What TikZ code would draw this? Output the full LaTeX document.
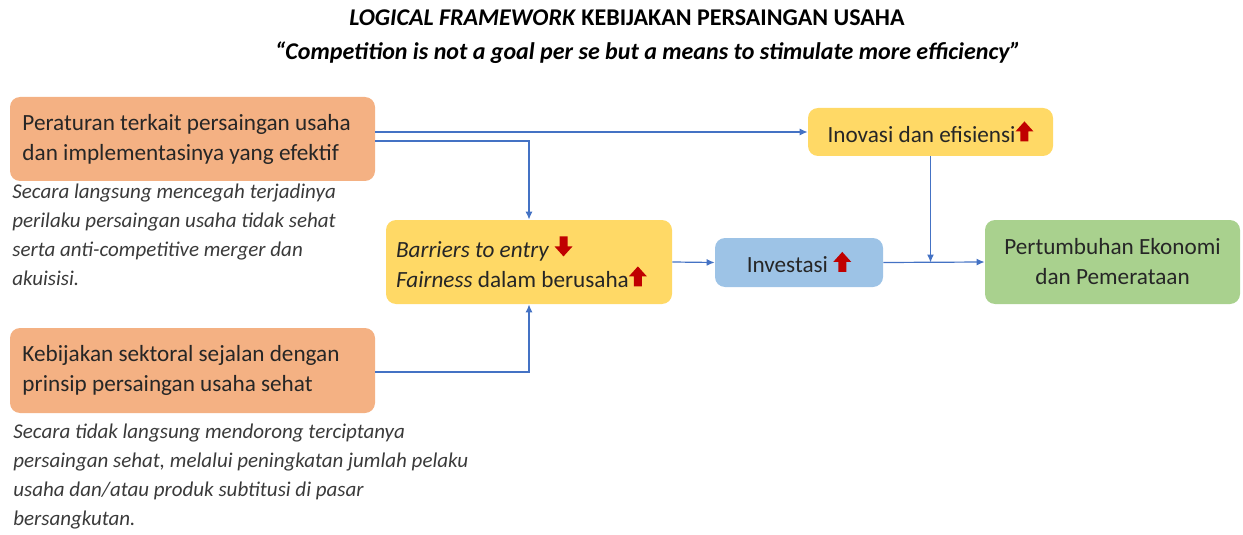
\documentclass[tikz,border=0pt]{standalone}
\usepackage{fontspec}
\setmainfont{Carlito}
\usetikzlibrary{arrows.meta, positioning}

\definecolor{boxorange}{HTML}{F4B183}
\definecolor{boxyellow}{HTML}{FFD966}
\definecolor{boxblue}{HTML}{9DC3E6}
\definecolor{boxgreen}{HTML}{A9D18E}
\definecolor{linkblue}{HTML}{4472C4}
\definecolor{arrowred}{HTML}{C00000}
\definecolor{notegray}{HTML}{3A3A3A}

% small red block arrows used inside the boxes
\newcommand{\naik}{\tikz[baseline=-0.5pt, sharp corners]\fill[arrowred, draw=none] (-2pt,0) -- (2pt,0) -- (2pt,5pt) -- (4.5pt,5pt) -- (0,10pt) -- (-4.5pt,5pt) -- (-2pt,5pt) -- cycle;}
\newcommand{\turun}{\tikz[baseline=-0.5pt, sharp corners]\fill[arrowred, draw=none] (-2pt,10pt) -- (2pt,10pt) -- (2pt,5pt) -- (4.5pt,5pt) -- (0,0) -- (-4.5pt,5pt) -- (-2pt,5pt) -- cycle;}

\begin{document}
\begin{tikzpicture}[x=0.5pt, y=-0.5pt,
    box/.style={rounded corners=5pt, inner sep=0pt, text=black!85,
        font=\fontsize{11.6}{15}\selectfont},
    note/.style={anchor=north west, inner sep=0pt, align=flush left, text=notegray,
        font=\fontsize{10.5}{14.5}\selectfont\itshape},
    link/.style={draw=linkblue, line width=0.6pt, -{Latex[length=4pt, width=3.5pt]}}
]
    \useasboundingbox (0,0) rectangle (1243,535);

    % Title
    \node[font=\fontsize{12}{14}\selectfont\bfseries] (title) at (627,18)
        {\textit{LOGICAL FRAMEWORK} KEBIJAKAN PERSAINGAN USAHA};
    \node[font=\fontsize{12}{14}\selectfont\bfseries\itshape] (motto) at (648,53)
        {“Competition is not a goal per se but a means to stimulate more efficiency”};

    % Policy boxes on the left
    \node[box, fill=boxorange, minimum width=182.5pt, minimum height=42pt,
        text width=170pt, align=flush left] (atur) at (192.5,139)
        {Peraturan terkait persaingan usaha\\dan implementasinya yang efektif};
    \node[box, fill=boxorange, minimum width=182.5pt, minimum height=42.5pt,
        text width=170pt, align=flush left] (sektor) at (192.5,370.5)
        {Kebijakan sektoral sejalan dengan\\prinsip persaingan usaha sehat};

    % Notes below the policy boxes
    \node[note] (noteatur) at (12,184)
        {Secara langsung mencegah terjadinya\\perilaku persaingan usaha tidak sehat\\serta anti-competitive merger dan\\akuisisi.};
    \node[note] (notesektor) at (13,424)
        {Secara tidak langsung mendorong terciptanya\\persaingan sehat, melalui peningkatan jumlah pelaku\\usaha dan/atau produk subtitusi di pasar\\bersangkutan.};

    % Effects
    \node[box, fill=boxyellow, minimum width=143pt, minimum height=42pt,
        text width=133pt, align=flush left] (barrier) at (529,262)
        {\textit{Barriers to entry} \turun\\\textit{Fairness} dalam berusaha\naik};
    \node[box, fill=boxblue, minimum width=84pt, minimum height=24.5pt] (invest) at (799,262.5)
        {Investasi \naik};
    \node[box, fill=boxyellow, minimum width=122.5pt, minimum height=24pt] (inovasi) at (930.5,132)
        {Inovasi dan efisiensi\naik};
    \node[box, fill=boxgreen, minimum width=127.5pt, minimum height=42pt, align=flush center] (tumbuh) at (1112.5,262)
        {Pertumbuhan Ekonomi\\dan Pemerataan};

    % Connectors
    \coordinate (join) at (inovasi.south |- invest.east);
    \draw[link] (inovasi.west -| atur.east) -- (inovasi.west);
    \draw[link] ([yshift=-1pt]atur.east) -| (barrier.north);
    \draw[link] ([yshift=-0.75pt]sektor.east) -| (barrier.south);
    \draw[link] (barrier.east) -- (invest.west);
    \draw[link] (invest.east) -- (tumbuh.west);
    \draw[link] (inovasi.south) -- (join);

\end{tikzpicture}
\end{document}
